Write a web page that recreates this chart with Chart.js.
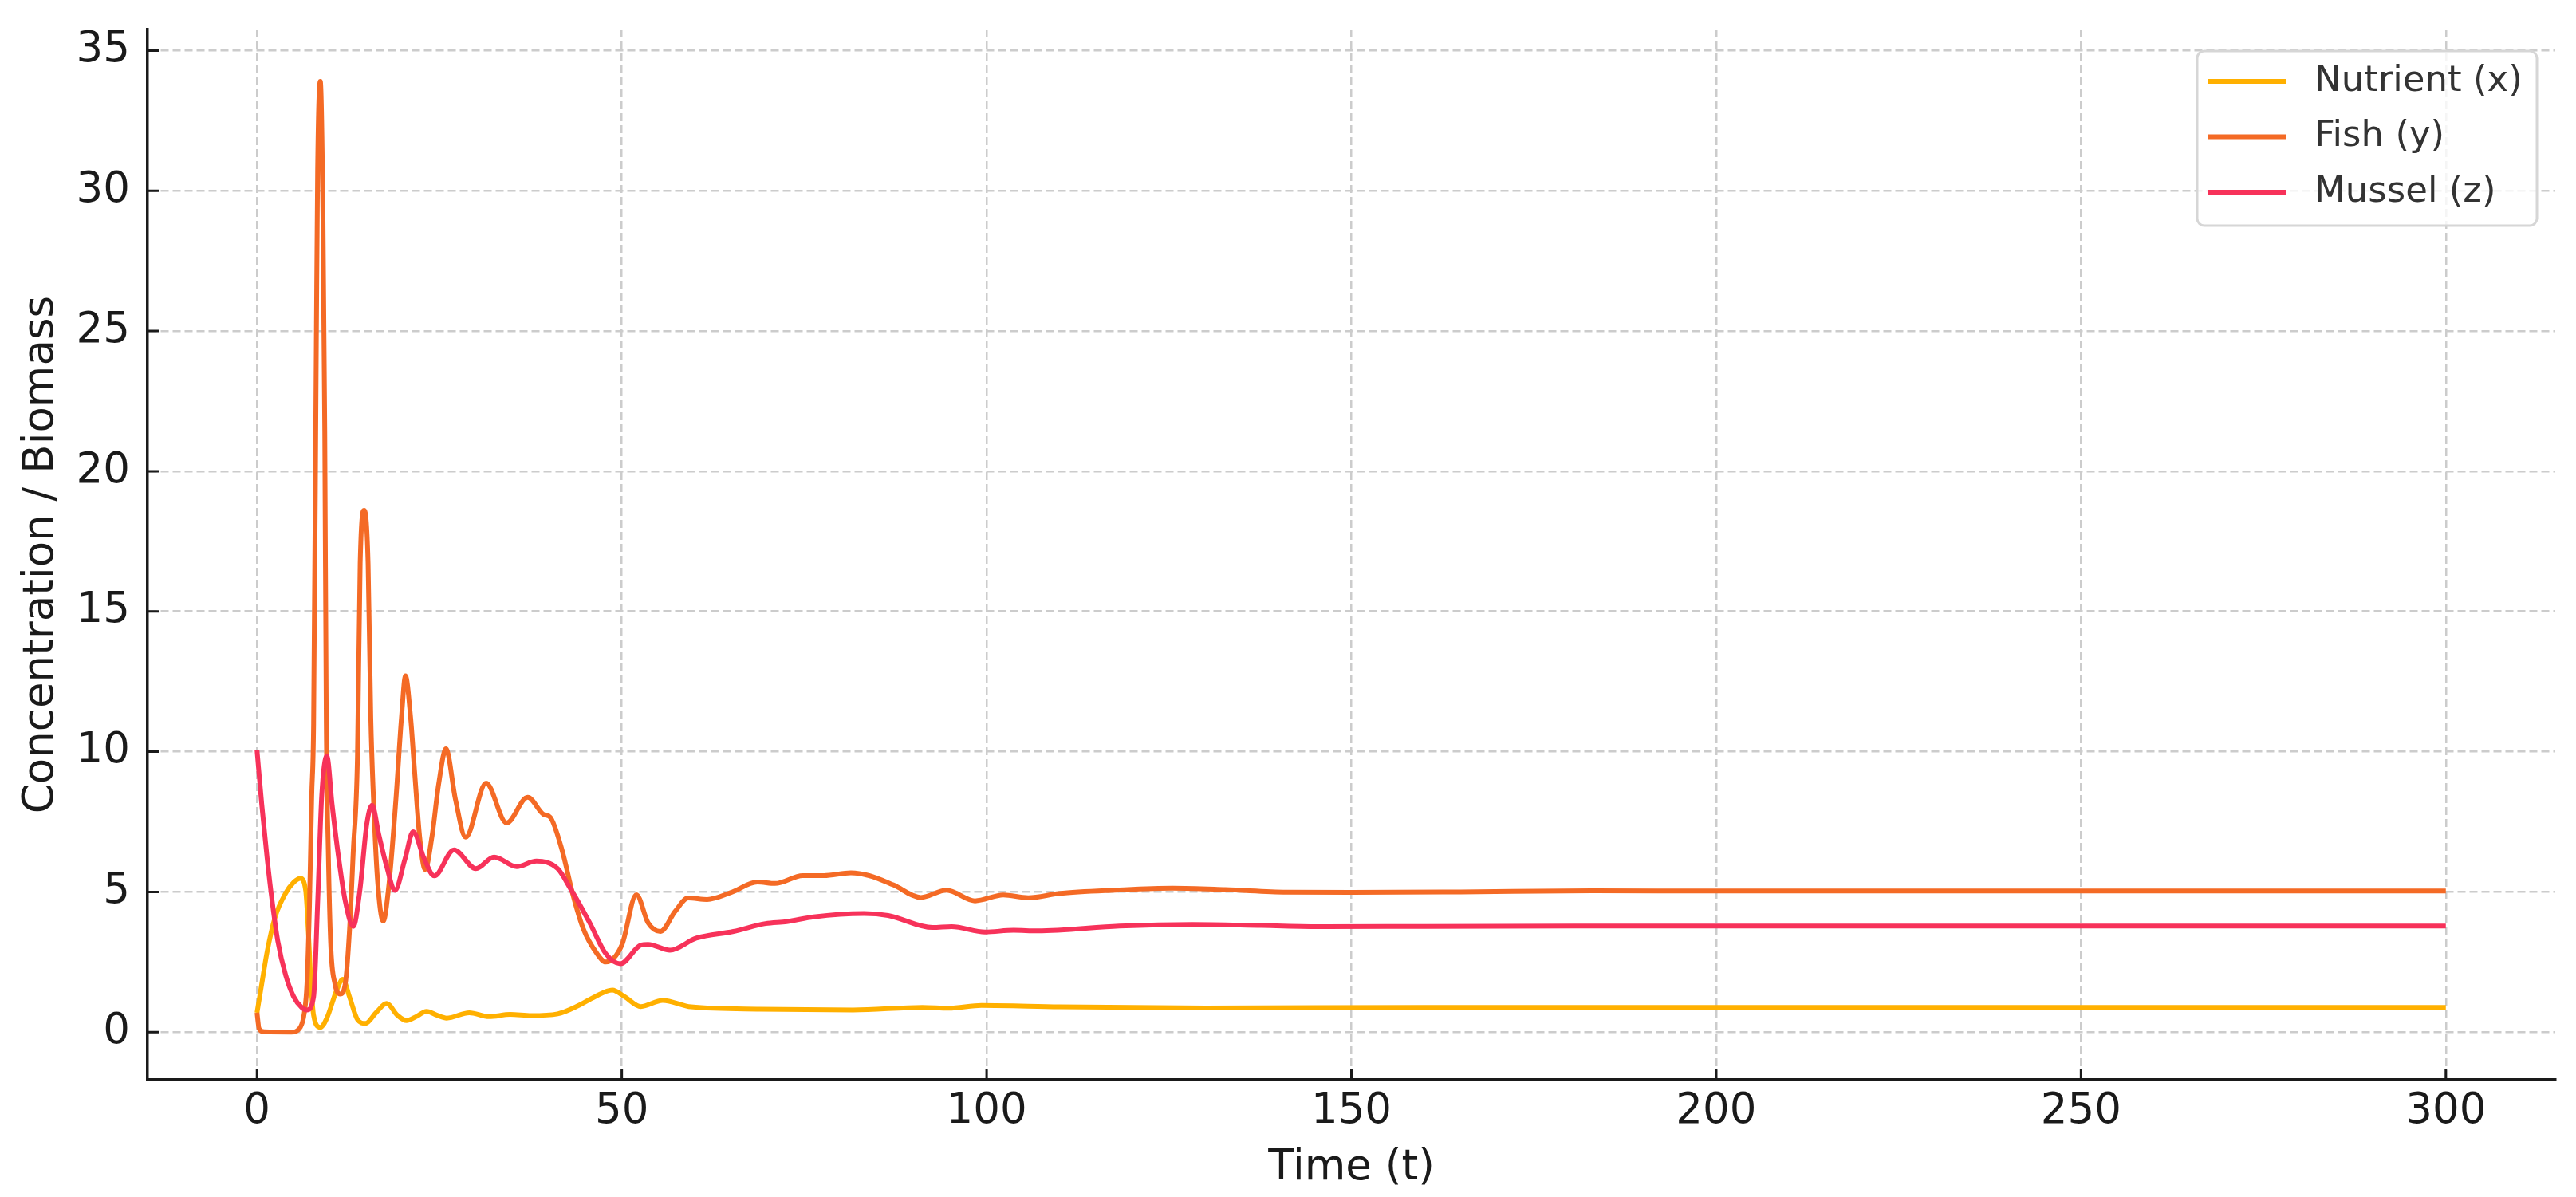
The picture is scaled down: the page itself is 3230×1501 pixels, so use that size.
<!DOCTYPE html>
<html>
<head>
<meta charset="utf-8">
<script src="https://cdn.jsdelivr.net/npm/chart.js@4/dist/chart.umd.min.js"></script>
<style>
  html, body { margin: 0; padding: 0; background: #fff; }
  canvas { display: block; }
</style>
</head>
<body>
<canvas id="chart" width="3230" height="1501"></canvas>
<script>
// values
const nutrientT = [0, 0.66, 1.39, 2.48, 3.94, 5.03, 5.94, 6.67, 7.03, 7.4, 7.76, 8.67, 9.58, 10.86, 11.77, 12.68, 13.77, 14.87, 16.3, 17.78, 19.24, 20.5, 21.8, 23.25, 24.7, 26, 29.1, 31.8, 34.7, 37.6, 41.2, 44.1, 46.3, 48.7, 50.4, 52.6, 55.6, 59.5, 68.9, 81.7, 91.2, 94.8, 99.3, 110, 130, 160, 200, 250, 300];
const nutrient = [0.69, 1.73, 2.87, 4.1, 4.96, 5.34, 5.48, 5.05, 3.63, 1.73, 0.6, 0.17, 0.5, 1.45, 1.88, 1.26, 0.45, 0.31, 0.69, 1.02, 0.6, 0.41, 0.55, 0.74, 0.6, 0.5, 0.69, 0.55, 0.63, 0.59, 0.65, 0.95, 1.26, 1.5, 1.26, 0.91, 1.13, 0.9, 0.82, 0.79, 0.88, 0.85, 0.95, 0.9, 0.86, 0.88, 0.88, 0.88, 0.88];

const fishT = [0, 0.29, 1.0, 4.7, 5.94, 6.49, 6.85, 7.2, 7.5, 7.76, 8.13, 8.31, 8.68, 9.04, 9.29, 9.5, 9.77, 10.1, 10.68, 11.4, 12.1, 12.68, 13.2, 13.77, 14.14, 14.69, 15.23, 15.6, 15.96, 16.5, 17.3, 18.1, 19.06, 19.8, 20.35, 21.06, 21.6, 22.3, 23.05, 23.97, 24.9, 25.9, 27.2, 28.6, 31.4, 34.2, 37.1, 39.3, 40.2, 41.8, 43.3, 44.7, 46.6, 47.8, 50, 52, 53.6, 55.3, 57.3, 59.1, 61.7, 64.9, 68.6, 71, 74.8, 77.7, 81.4, 83.9, 87.2, 91, 94.5, 98.4, 102.3, 105.7, 109.9, 117.7, 125.5, 132.7, 141.1, 150, 165, 183, 200, 250, 300];
const fish = [0.69, 0.12, 0.01, 0.0, 0.17, 0.69, 1.73, 4.6, 8.4, 11.0, 24.5, 30.7, 33.9, 29.2, 21.4, 11.0, 6.5, 3.16, 1.73, 1.36, 1.73, 3.63, 6.47, 9.8, 16.7, 18.6, 16.7, 11.2, 8.37, 5.5, 3.96, 5.3, 8.37, 11.2, 12.7, 11.2, 9.3, 6.95, 5.8, 6.95, 8.84, 10.1, 8.3, 6.95, 8.88, 7.46, 8.37, 7.76, 7.66, 6.5, 4.9, 3.7, 2.8, 2.5, 3.1, 4.9, 3.9, 3.59, 4.3, 4.78, 4.73, 4.97, 5.35, 5.3, 5.58, 5.58, 5.68, 5.58, 5.25, 4.8, 5.06, 4.68, 4.89, 4.79, 4.94, 5.06, 5.13, 5.08, 4.99, 4.98, 5.0, 5.04, 5.03, 5.03, 5.03];

const musselT = [0, 0.66, 1.39, 2.12, 2.85, 3.94, 5.03, 6.12, 6.85, 7.76, 8.31, 8.86, 9.58, 10.3, 11.2, 12.1, 13.2, 14.1, 15.05, 15.78, 16.7, 17.78, 18.9, 20.3, 21.4, 22.9, 24.3, 27, 30, 32.5, 35.6, 38.3, 41.2, 43, 45.6, 47.8, 49.8, 52.6, 53.6, 56.6, 60.2, 65.3, 69.7, 72.6, 76.3, 83.2, 86.5, 92.6, 95.2, 99.8, 103.7, 107, 118.2, 128.2, 137.7, 146, 160, 183, 200, 250, 300];
const mussel = [10.06, 8.1, 6.2, 4.58, 3.25, 2.02, 1.26, 0.88, 0.79, 1.26, 4.58, 8.37, 9.84, 8.1, 6.2, 4.67, 3.77, 5.05, 7.42, 8.09, 7.04, 5.9, 5.05, 6.19, 7.14, 6.19, 5.57, 6.5, 5.83, 6.24, 5.9, 6.1, 5.83, 5.1, 3.9, 2.8, 2.44, 3.1, 3.13, 2.92, 3.35, 3.59, 3.87, 3.94, 4.11, 4.23, 4.16, 3.73, 3.76, 3.57, 3.63, 3.61, 3.78, 3.84, 3.8, 3.76, 3.77, 3.78, 3.78, 3.78, 3.78];

const seriesLabels = ["Nutrient (x)", "Fish (y)", "Mussel (z)"];
const seriesColors = ["#ffb000", "#f46a25", "#f7325a"];
const xTicks = [0, 50, 100, 150, 200, 250, 300];
const yTicks = [0, 5, 10, 15, 20, 25, 30, 35];

const font = { family: "DejaVu Sans", size: 53 };
const ink = "#1a1a1a";
const toPoints = (ts, vs) => ts.map((t, i) => ({ x: t, y: vs[i] }));

// matplotlib-style ticks pointing into the plot
const innerTicks = {
  id: "innerTicks",
  afterDatasetsDraw(chart) {
    const { ctx, chartArea, scales } = chart;
    ctx.save();
    ctx.strokeStyle = ink;
    ctx.lineWidth = 3;
    ctx.beginPath();
    xTicks.forEach((v) => {
      const px = scales.x.getPixelForValue(v);
      ctx.moveTo(px, chartArea.bottom);
      ctx.lineTo(px, chartArea.bottom - 14);
    });
    yTicks.forEach((v) => {
      const py = scales.y.getPixelForValue(v);
      ctx.moveTo(chartArea.left, py);
      ctx.lineTo(chartArea.left + 14, py);
    });
    ctx.stroke();
    ctx.restore();
  }
};

const boxLegend = {
  id: "boxLegend",
  afterDraw(chart) {
    const { ctx } = chart;
    const x0 = 2755, y0 = 64, w = 426, h = 219, rowH = 69.5;
    ctx.save();
    ctx.beginPath();
    ctx.roundRect(x0, y0, w, h, 9);
    ctx.fillStyle = "rgba(255,255,255,0.8)";
    ctx.fill();
    ctx.lineWidth = 3;
    ctx.strokeStyle = "#d6d6d6";
    ctx.stroke();
    ctx.font = "45px 'DejaVu Sans'";
    ctx.textBaseline = "middle";
    chart.data.datasets.forEach((ds, i) => {
      const cy = y0 + 38 + i * rowH;
      ctx.beginPath();
      ctx.strokeStyle = ds.borderColor;
      ctx.lineWidth = 6;
      ctx.moveTo(x0 + 14, cy);
      ctx.lineTo(x0 + 112, cy);
      ctx.stroke();
      ctx.fillStyle = "#333";
      ctx.fillText(ds.label, x0 + 147, cy);
    });
    ctx.restore();
  }
};

new Chart(document.getElementById("chart"), {
  type: "line",
  data: {
    datasets: [
      { label: seriesLabels[0], data: toPoints(nutrientT, nutrient), borderColor: seriesColors[0], order: 2 },
      { label: seriesLabels[1], data: toPoints(fishT, fish), borderColor: seriesColors[1], order: 1 },
      { label: seriesLabels[2], data: toPoints(musselT, mussel), borderColor: seriesColors[2], order: 0 }
    ]
  },
  options: {
    responsive: false,
    animation: false,
    devicePixelRatio: 1,
    layout: { padding: { top: 37, right: 26, left: 0, bottom: 0 } },
    elements: {
      point: { radius: 0 },
      line: { borderWidth: 6, cubicInterpolationMode: "monotone", fill: false }
    },
    plugins: { legend: { display: false }, tooltip: { enabled: false } },
    scales: {
      x: {
        type: "linear",
        min: -15,
        max: 315,
        afterBuildTicks: (s) => { s.ticks = xTicks.map((v) => ({ value: v })); },
        afterFit: (s) => { s.height = 147; s.paddingLeft = 0; s.paddingRight = 0; },
        grid: { color: "#cccccc", lineWidth: 2.5, drawTicks: false },
        border: { display: true, color: ink, width: 3.5, dash: [10, 5] },
        ticks: { font, color: ink, padding: 8, maxRotation: 0, autoSkip: false },
        title: { display: true, text: "Time (t)", font, color: ink, padding: { top: 0, bottom: 4 } }
      },
      y: {
        type: "linear",
        min: -1.7,
        max: 35.75,
        afterBuildTicks: (s) => { s.ticks = yTicks.map((v) => ({ value: v })); },
        afterFit: (s) => { s.width = 185; s.paddingTop = 0; s.paddingBottom = 0; },
        grid: { color: "#cccccc", lineWidth: 2.5, drawTicks: false },
        border: { display: true, color: ink, width: 3.5, dash: [10, 5] },
        ticks: { font, color: ink, padding: 22 },
        title: { display: true, text: "Concentration / Biomass", font, color: ink, padding: { top: 20, bottom: 0 } }
      }
    }
  },
  plugins: [innerTicks, boxLegend]
});
</script>
</body>
</html>
